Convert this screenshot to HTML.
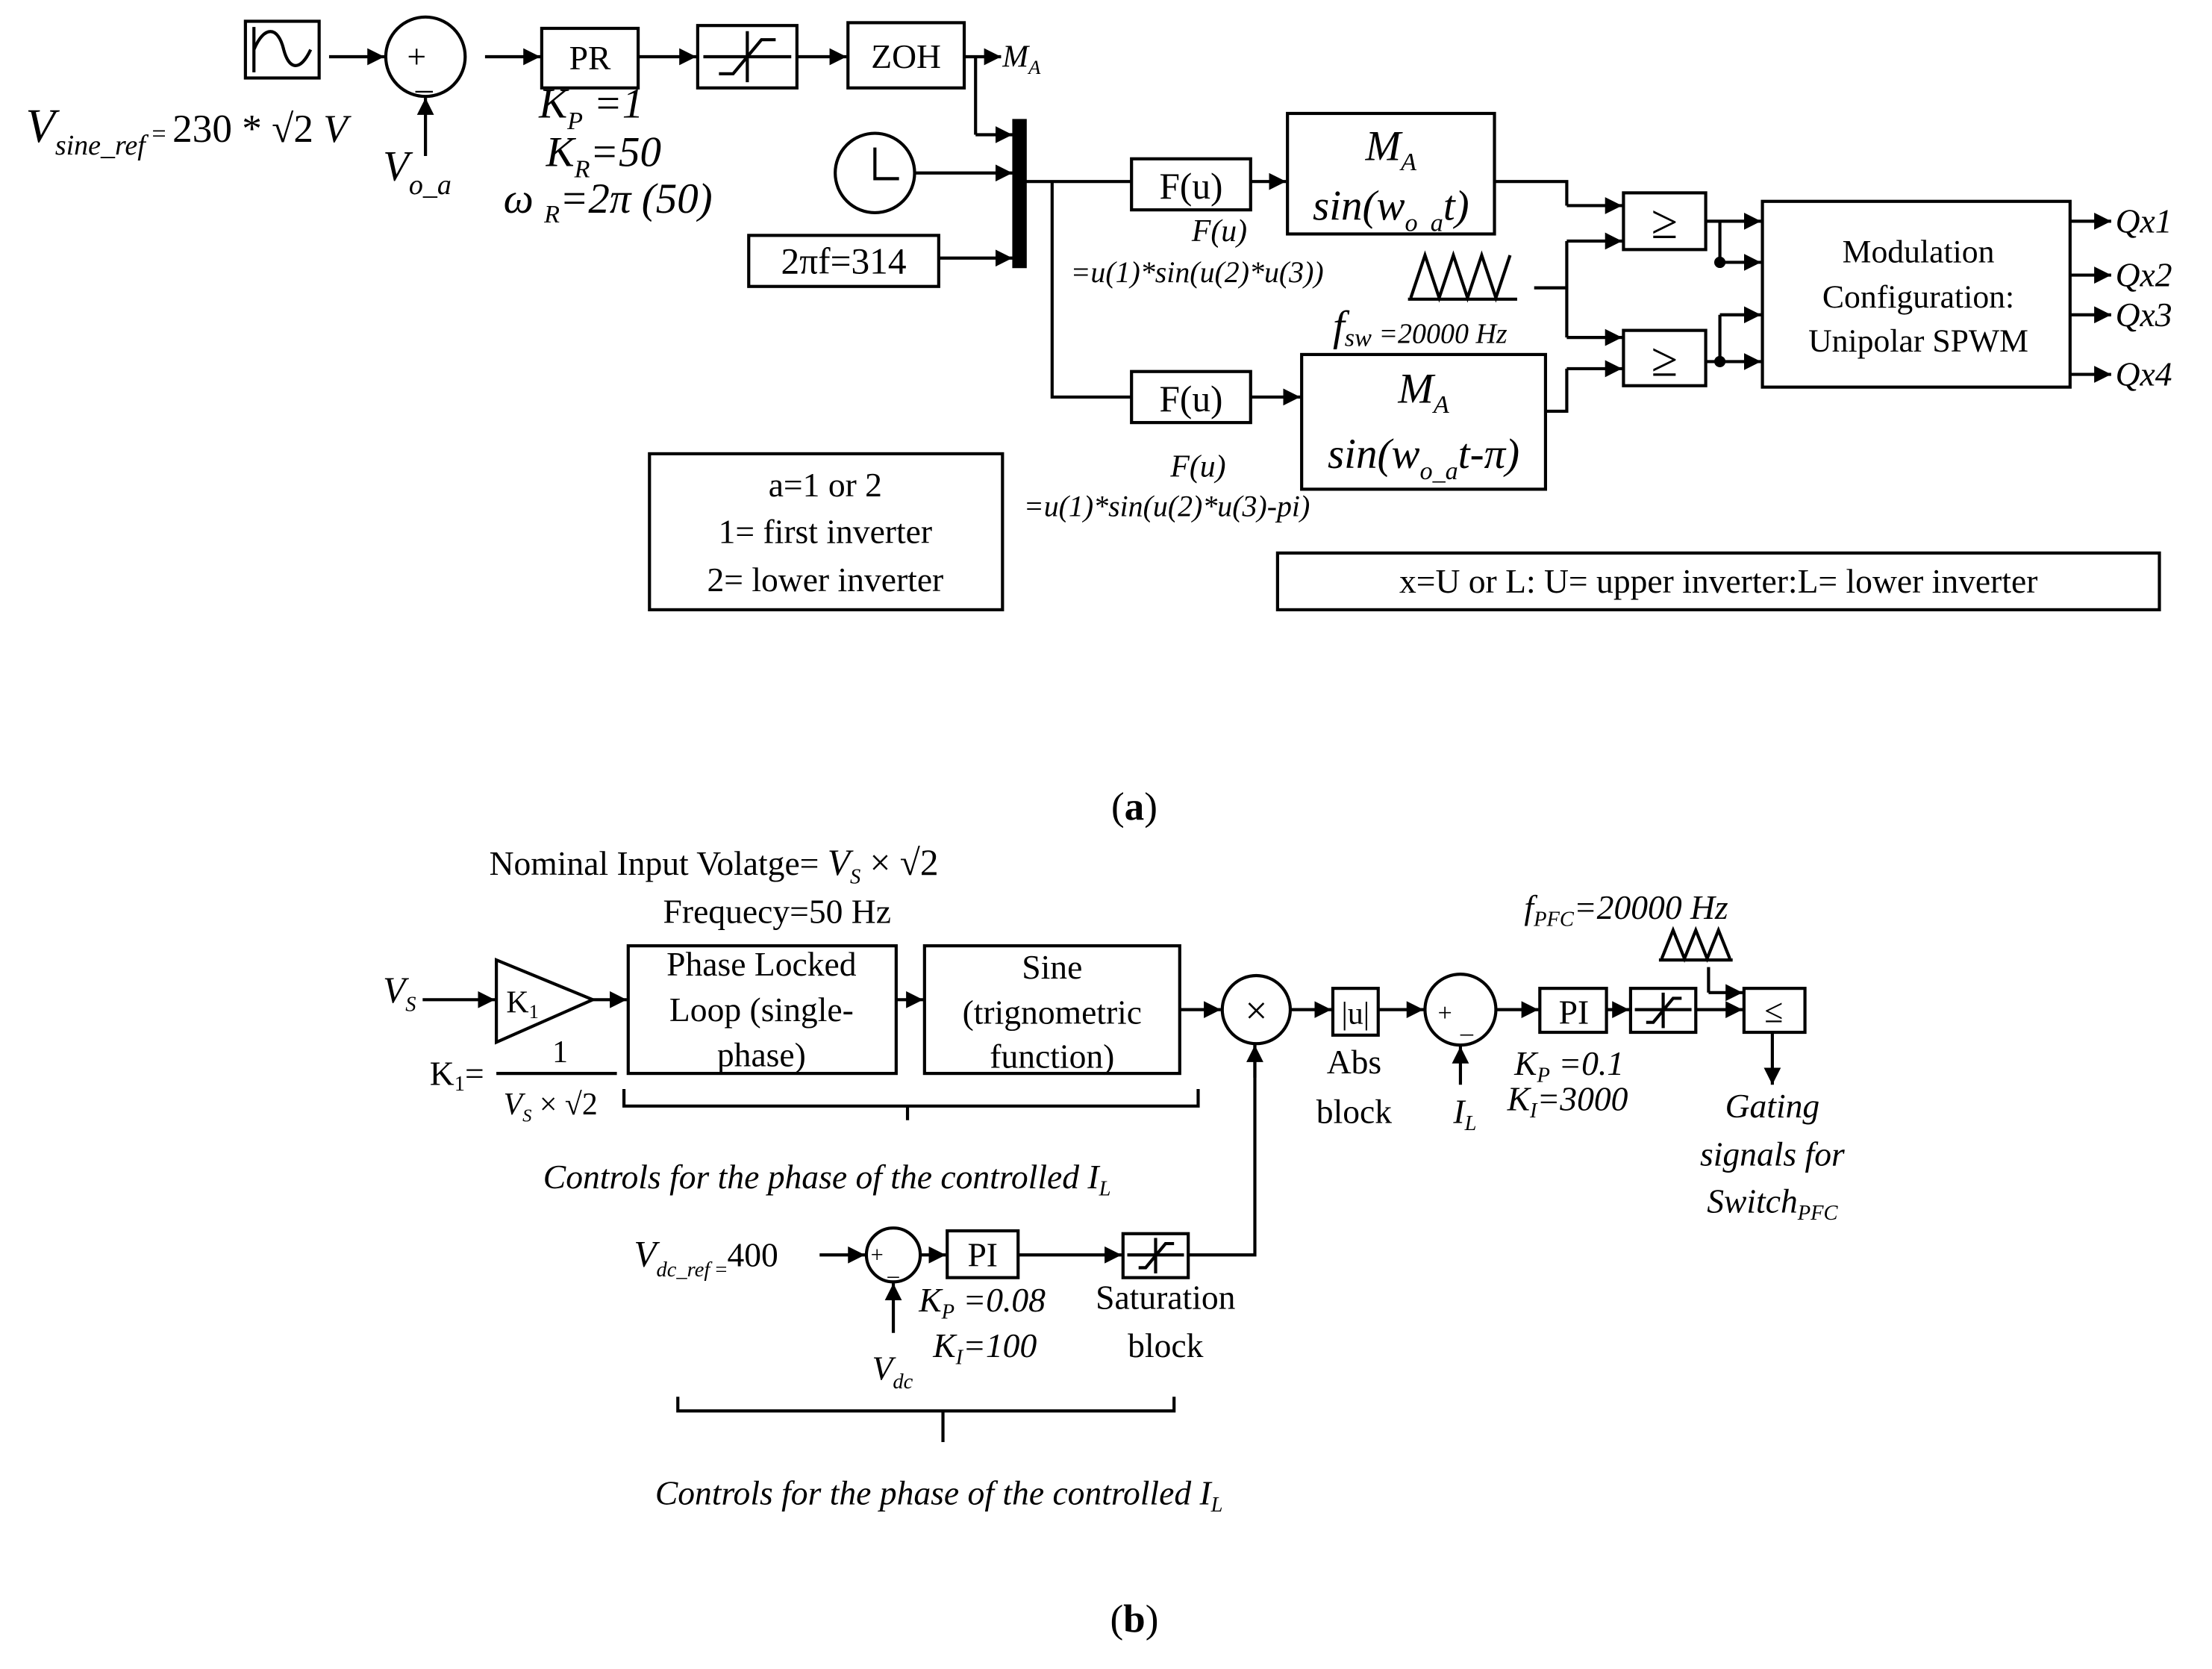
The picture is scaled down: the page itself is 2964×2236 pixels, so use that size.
<!DOCTYPE html>
<html><head><meta charset="utf-8"><style>
html,body{margin:0;padding:0;background:#fff;}
svg{display:block;}
text{font-family:"Liberation Serif",serif;fill:#000;}
.i{font-style:italic;}
</style></head><body>
<svg width="2964" height="2236" viewBox="0 0 1560 1177" xmlns="http://www.w3.org/2000/svg">
<defs>
<marker id="a" markerUnits="userSpaceOnUse" markerWidth="14" markerHeight="12" refX="12" refY="6" orient="auto"><path d="M0,0 L12,6 L0,12 z" fill="#000"/></marker>
</defs>
<g fill="none" stroke="#000" stroke-width="2.2">
<!-- (a) -->
<rect x="173" y="15" width="52" height="40"/>
<path d="M179,19 V51 M179,35 C186,18 196,18 200,35 C204,50 212,50 219,35"/>
<line x1="232" y1="40" x2="271" y2="40" marker-end="url(#a)"/>
<circle cx="300" cy="40" r="28"/>
<line x1="300" y1="110" x2="300" y2="69" marker-end="url(#a)"/>
<line x1="342" y1="40" x2="381" y2="40" marker-end="url(#a)"/>
<rect x="382" y="20" width="68" height="42"/>
<line x1="450" y1="40" x2="491" y2="40" marker-end="url(#a)"/>
<rect x="492" y="18" width="70" height="44"/>
<path d="M496,40 H558 M527,22 V58 M507,52 H517 L537,28 H547"/>
<line x1="562" y1="40" x2="597" y2="40" marker-end="url(#a)"/>
<rect x="598" y="16" width="82" height="46"/>
<line x1="680" y1="40" x2="706" y2="40" marker-end="url(#a)"/>
<path d="M688,40 V95"/>
<line x1="688" y1="95" x2="714" y2="95" marker-end="url(#a)"/>
<rect x="715" y="85" width="8" height="103" fill="#000"/>
<circle cx="617" cy="122" r="28"/>
<path d="M617,104 V126 H634"/>
<line x1="645" y1="122" x2="714" y2="122" marker-end="url(#a)"/>
<rect x="528" y="166" width="134" height="36"/>
<line x1="662" y1="182" x2="714" y2="182" marker-end="url(#a)"/>
<path d="M723,128 H798 M742,128 V280 H798"/>
<rect x="798" y="112" width="84" height="36"/>
<line x1="882" y1="128" x2="907" y2="128" marker-end="url(#a)"/>
<rect x="908" y="80" width="146" height="85"/>
<path d="M1054,128 H1105 V145"/>
<line x1="1105" y1="145" x2="1144" y2="145" marker-end="url(#a)"/>
<rect x="1145" y="136" width="58" height="40"/>
<path d="M995,210 L1005,180 L1015,210 L1025,180 L1035,210 L1045,180 L1055,210 L1065,180 M993,211 H1070"/>
<path d="M1082,203 H1105 M1105,170 V238"/>
<line x1="1105" y1="170" x2="1144" y2="170" marker-end="url(#a)"/>
<line x1="1105" y1="238" x2="1144" y2="238" marker-end="url(#a)"/>
<rect x="1145" y="233" width="58" height="39"/>
<rect x="798" y="262" width="84" height="36"/>
<line x1="882" y1="280" x2="917" y2="280" marker-end="url(#a)"/>
<rect x="918" y="250" width="172" height="95"/>
<path d="M1090,290 H1105 V260"/>
<line x1="1105" y1="260" x2="1144" y2="260" marker-end="url(#a)"/>
<line x1="1203" y1="156" x2="1242" y2="156" marker-end="url(#a)"/>
<path d="M1213,156 V185"/>
<line x1="1213" y1="185" x2="1242" y2="185" marker-end="url(#a)"/>
<line x1="1203" y1="255" x2="1242" y2="255" marker-end="url(#a)"/>
<path d="M1213,255 V222"/>
<line x1="1213" y1="222" x2="1242" y2="222" marker-end="url(#a)"/>
<rect x="1243" y="142" width="217" height="131"/>
<line x1="1460" y1="156" x2="1489" y2="156" marker-end="url(#a)"/>
<line x1="1460" y1="194" x2="1489" y2="194" marker-end="url(#a)"/>
<line x1="1460" y1="222" x2="1489" y2="222" marker-end="url(#a)"/>
<line x1="1460" y1="264" x2="1489" y2="264" marker-end="url(#a)"/>
<rect x="458" y="320" width="249" height="110"/>
<rect x="901" y="390" width="622" height="40"/>
<!-- (b) -->
<line x1="298" y1="705" x2="349" y2="705" marker-end="url(#a)"/>
<path d="M350,677 L350,735 L418,705 Z"/>
<line x1="418" y1="705" x2="442" y2="705" marker-end="url(#a)"/>
<rect x="443" y="667" width="189" height="90"/>
<line x1="632" y1="705" x2="651" y2="705" marker-end="url(#a)"/>
<rect x="652" y="667" width="180" height="90"/>
<line x1="832" y1="712" x2="861" y2="712" marker-end="url(#a)"/>
<circle cx="886" cy="712" r="24"/>
<line x1="910" y1="712" x2="939" y2="712" marker-end="url(#a)"/>
<rect x="940" y="697" width="32" height="33"/>
<line x1="972" y1="712" x2="1004" y2="712" marker-end="url(#a)"/>
<circle cx="1030" cy="712" r="25"/>
<line x1="1030" y1="765" x2="1030" y2="738" marker-end="url(#a)"/>
<line x1="1055" y1="712" x2="1085" y2="712" marker-end="url(#a)"/>
<rect x="1086" y="697" width="47" height="31"/>
<line x1="1133" y1="712" x2="1149" y2="712" marker-end="url(#a)"/>
<rect x="1150" y="697" width="46" height="31"/>
<path d="M1153,712 H1193 M1173,700 V725 M1161,721 H1166 L1180,704 H1186"/>
<line x1="1196" y1="712" x2="1229" y2="712" marker-end="url(#a)"/>
<rect x="1230" y="697" width="43" height="31"/>
<path d="M1172,676 L1180,656 L1188,676 L1196,656 L1204,676 L1212,656 L1220,676 M1170,677 H1222"/>
<path d="M1205,682 V700"/>
<line x1="1205" y1="700" x2="1229" y2="700" marker-end="url(#a)"/>
<line x1="1250" y1="728" x2="1250" y2="765" marker-end="url(#a)"/>
<path d="M440,768 V780 H845 V768 M640,780 V790"/>
<line x1="350" y1="757" x2="435" y2="757"/>
<line x1="578" y1="885" x2="610" y2="885" marker-end="url(#a)"/>
<circle cx="630" cy="885" r="19"/>
<line x1="630" y1="940" x2="630" y2="905" marker-end="url(#a)"/>
<line x1="649" y1="885" x2="667" y2="885" marker-end="url(#a)"/>
<rect x="668" y="868" width="50" height="33"/>
<line x1="718" y1="885" x2="791" y2="885" marker-end="url(#a)"/>
<rect x="792" y="870" width="46" height="31"/>
<path d="M795,885 H835 M815,873 V898 M803,894 H808 L822,877 H828"/>
<path d="M838,885 H885 V737"/>
<line x1="885" y1="760" x2="885" y2="737" marker-end="url(#a)"/>
<path d="M478,985 V995 H828 V985 M665,995 V1017"/>
</g>
<circle cx="1213" cy="185" r="4"/>
<circle cx="1213" cy="255" r="4"/>
<g font-size="24">
<text x="287" y="48" font-size="24">+</text>
<text x="293" y="62" font-size="24">_</text>
<text x="18" y="100" font-size="34"><tspan class="i">V</tspan><tspan class="i" font-size="20" dy="9">sine_ref</tspan><tspan font-size="18" dy="-9"> = </tspan><tspan font-size="28">230 * √2 </tspan><tspan class="i" font-size="28">V</tspan></text>
<text x="270" y="127" class="i" font-size="30">V<tspan font-size="20" dy="10">o_a</tspan></text>
<text x="416" y="49" text-anchor="middle">PR</text>
<text x="639" y="48" text-anchor="middle">ZOH</text>
<text x="707" y="47" class="i" font-size="22">M<tspan font-size="14" dy="5">A</tspan></text>
<text x="380" y="83" class="i" font-size="30">K<tspan font-size="18" dy="8">P</tspan><tspan dy="-8"> =1</tspan></text>
<text x="385" y="117" class="i" font-size="30">K<tspan font-size="18" dy="8">R</tspan><tspan dy="-8">=50</tspan></text>
<text x="355" y="150" class="i" font-size="30">ω <tspan font-size="18" dy="7">R</tspan><tspan dy="-7">=2π (50)</tspan></text>
<text x="595" y="193" text-anchor="middle" font-size="26">2πf=314</text>
<text x="840" y="140" text-anchor="middle" font-size="26">F(u)</text>
<text x="840" y="290" text-anchor="middle" font-size="26">F(u)</text>
<text x="981" y="113" class="i" font-size="30" text-anchor="middle">M<tspan font-size="18" dy="7">A</tspan></text>
<text x="981" y="155" class="i" font-size="30" text-anchor="middle">sin(w<tspan font-size="18" dy="8">o_a</tspan><tspan dy="-8">t)</tspan></text>
<text x="1004" y="284" class="i" font-size="30" text-anchor="middle">M<tspan font-size="18" dy="7">A</tspan></text>
<text x="1004" y="330" class="i" font-size="30" text-anchor="middle">sin(w<tspan font-size="18" dy="8">o_a</tspan><tspan dy="-8">t-π)</tspan></text>
<text x="1174" y="168" text-anchor="middle" font-size="34">≥</text>
<text x="1174" y="265" text-anchor="middle" font-size="34">≥</text>
<text x="860" y="170" class="i" font-size="22" text-anchor="middle">F(u)</text>
<text x="755" y="199" class="i" font-size="21">=u(1)*sin(u(2)*u(3))</text>
<text x="845" y="336" class="i" font-size="22" text-anchor="middle">F(u)</text>
<text x="722" y="364" class="i" font-size="21">=u(1)*sin(u(2)*u(3)-pi)</text>
<text x="940" y="240" class="i" font-size="30">f<tspan font-size="18" dy="4">sw</tspan><tspan font-size="20" dy="-2"> =20000 Hz</tspan></text>
<text x="1353" y="185" text-anchor="middle" font-size="23">Modulation</text>
<text x="1353" y="217" text-anchor="middle" font-size="23">Configuration:</text>
<text x="1353" y="248" text-anchor="middle" font-size="23">Unipolar SPWM</text>
<text x="1492" y="164" class="i">Qx1</text>
<text x="1492" y="202" class="i">Qx2</text>
<text x="1492" y="230" class="i">Qx3</text>
<text x="1492" y="272" class="i">Qx4</text>
<text x="582" y="350" text-anchor="middle">a=1 or 2</text>
<text x="582" y="383" text-anchor="middle">1= first inverter</text>
<text x="582" y="417" text-anchor="middle">2= lower inverter</text>
<text x="1212" y="418" text-anchor="middle">x=U or L: U= upper inverter:L= lower inverter</text>
<text x="800" y="578" text-anchor="middle" font-size="28">(<tspan font-weight="bold">a</tspan>)</text>
<text x="345" y="617">Nominal Input Volatge= <tspan class="i" font-size="26">V</tspan><tspan class="i" font-size="15" dy="6">S</tspan><tspan font-size="26" dy="-6"> × √2</tspan></text>
<text x="548" y="651" text-anchor="middle">Frequecy=50 Hz</text>
<text x="270" y="707" class="i" font-size="26">V<tspan font-size="15" dy="6">S</tspan></text>
<text x="357" y="714" font-size="22">K<tspan font-size="14" dy="4">1</tspan></text>
<text x="537" y="688" text-anchor="middle">Phase Locked</text>
<text x="537" y="720" text-anchor="middle">Loop (single-</text>
<text x="537" y="752" text-anchor="middle">phase)</text>
<text x="742" y="690" text-anchor="middle">Sine</text>
<text x="742" y="722" text-anchor="middle">(trignometric</text>
<text x="742" y="753" text-anchor="middle">function)</text>
<text x="886" y="722" text-anchor="middle" font-size="28">×</text>
<text x="956" y="722" text-anchor="middle" font-size="22">|u|</text>
<text x="955" y="757" text-anchor="middle">Abs</text>
<text x="955" y="792" text-anchor="middle">block</text>
<text x="1014" y="720" font-size="18">+</text><text x="1030" y="728" font-size="18">_</text>
<text x="1025" y="792" class="i">I<tspan font-size="15" dy="5">L</tspan></text>
<text x="1110" y="722" text-anchor="middle">PI</text>
<text x="1251" y="721" text-anchor="middle" font-size="24">≤</text>
<text x="1075" y="648" class="i">f<tspan font-size="15" dy="5">PFC</tspan><tspan dy="-5">=20000 Hz</tspan></text>
<text x="1068" y="758" class="i">K<tspan font-size="15" dy="5">P</tspan><tspan dy="-5"> =0.1</tspan></text>
<text x="1063" y="783" class="i">K<tspan font-size="15" dy="5">I</tspan><tspan dy="-5">=3000</tspan></text>
<text x="1250" y="788" class="i" text-anchor="middle">Gating</text>
<text x="1250" y="822" class="i" text-anchor="middle">signals for</text>
<text x="1250" y="855" class="i" text-anchor="middle">Switch<tspan font-size="15" dy="5">PFC</tspan></text>
<text x="303" y="765">K<tspan font-size="15" dy="4">1</tspan><tspan dy="-4">=</tspan></text>
<text x="395" y="749" text-anchor="middle" font-size="22">1</text>
<text x="355" y="786" font-size="22"><tspan class="i">V</tspan><tspan class="i" font-size="13" dy="5">S</tspan><tspan dy="-5"> × √2</tspan></text>
<text x="383" y="838" class="i">Controls for the phase of the controlled I<tspan font-size="15" dy="5">L</tspan></text>
<text x="447" y="893" font-size="26"><tspan class="i">V</tspan><tspan class="i" font-size="15" dy="7">dc_ref</tspan><tspan font-size="15" dy="0"> =</tspan><tspan font-size="24" dy="-7">400</tspan></text>
<text x="614" y="890" font-size="16">+</text><text x="626" y="899" font-size="16">_</text>
<text x="693" y="893" text-anchor="middle">PI</text>
<text x="615" y="973" class="i">V<tspan font-size="15" dy="6">dc</tspan></text>
<text x="648" y="925" class="i">K<tspan font-size="15" dy="5">P</tspan><tspan dy="-5"> =0.08</tspan></text>
<text x="658" y="957" class="i">K<tspan font-size="15" dy="5">I</tspan><tspan dy="-5">=100</tspan></text>
<text x="822" y="923" text-anchor="middle">Saturation</text>
<text x="822" y="957" text-anchor="middle">block</text>
<text x="462" y="1061" class="i">Controls for the phase of the controlled I<tspan font-size="15" dy="5">L</tspan></text>
<text x="800" y="1151" text-anchor="middle" font-size="28">(<tspan font-weight="bold">b</tspan>)</text>
</g>
</svg>
</body></html>
